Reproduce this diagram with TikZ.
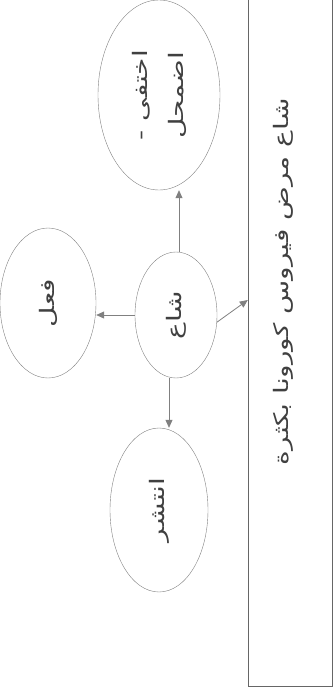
\documentclass[tikz,border=0pt]{standalone}
\usepackage{fontspec}
\newfontfamily\arabicfont[Script=Arabic,FakeStretch=1.4]{DejaVu Sans}
\TeXXeTstate=1
\usetikzlibrary{arrows.meta,positioning,shapes.geometric}

\begin{document}
\begin{tikzpicture}[x=1pt,y=-1pt,
    bubble/.style={draw=black!50, ellipse, rotate=90, inner sep=0pt, align=center,
        text=black!75, font=\arabicfont\fontsize{20}{36}\selectfont},
    frame/.style={draw=black!60, rotate=90, inner sep=0pt},
    link/.style={draw=black!50, line width=0.8pt, -{Triangle[length=8pt,width=7pt]}}]
    \useasboundingbox (0,0) rectangle (333,691);

    \node[frame, minimum width=720pt, minimum height=84pt] (box) at (290,326) {};
    \node[rotate=90, anchor=east, text=black!75, font=\arabicfont\fontsize{20}{26}\selectfont]
        (rumor) at (283,95) {\beginR شاع مرض فيروس كورونا بكثرة\endR};

    \node[bubble, minimum width=126pt, minimum height=82pt] (shaa) at (176,315) {\beginR شاع\endR};
    \node[bubble, minimum width=190pt, minimum height=122pt] (ikhtafa) at (159,95)
        {\beginR اختفى -\endR\\ \beginR اضمحل\endR};
    \node[bubble, minimum width=150pt, minimum height=96pt] (fiel) at (48,303) {\beginR فعل\endR};
    \node[bubble, minimum width=164pt, minimum height=98pt] (intashar) at (159,510) {\beginR انتشر\endR};

    \draw[link] ([xshift=3pt]shaa.east) -- ([xshift=3pt]shaa.east |- ikhtafa.west);
    \draw[link] (shaa.north) -- (shaa.north -| fiel.south);
    \draw[link] ([xshift=-7pt]shaa.west) -- ([xshift=-7pt]shaa.west |- intashar.east);
    \draw[link] (shaa.-100) -- ([yshift=26pt]box.north);
\end{tikzpicture}
\end{document}
